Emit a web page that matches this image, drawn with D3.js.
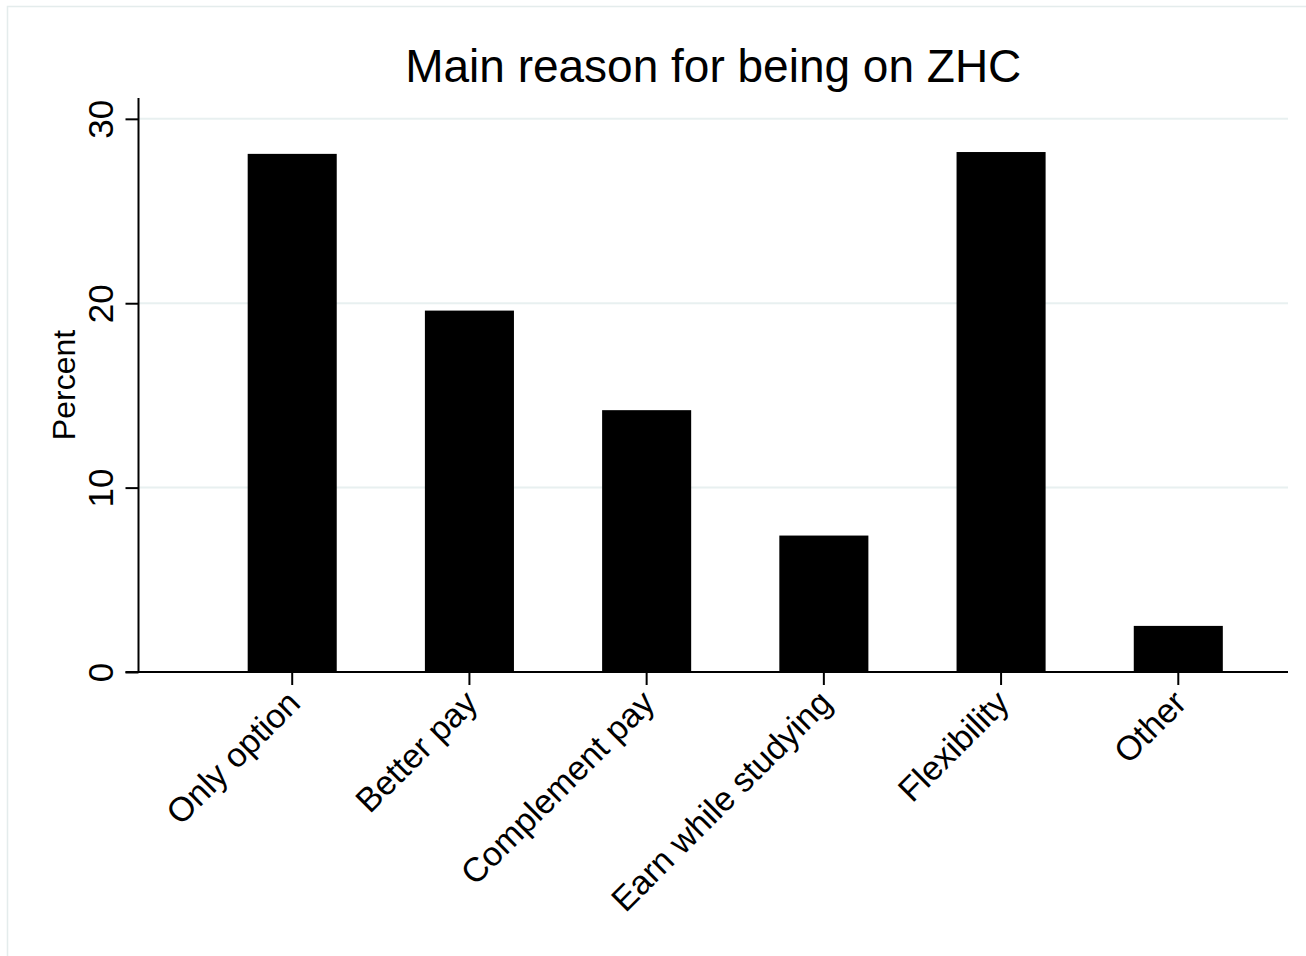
<!DOCTYPE html>
<html>
<head>
<meta charset="utf-8">
<script src="https://cdn.jsdelivr.net/npm/d3@7"></script>
<style>
  html, body { margin: 0; padding: 0; background: #fff; }
  svg { display: block; }
  text { font-family: "Liberation Sans", Arial, Helvetica, sans-serif; fill: #000; }
</style>
</head>
<body>
<svg id="chart" width="1306" height="956"></svg>
<script>
// Survey shares: main reason for being on a zero-hours contract (percent)
const categories = ["Only option", "Better pay", "Complement pay", "Earn while studying", "Flexibility", "Other"];
const percents = [28.1, 19.6, 14.2, 7.4, 28.2, 2.5];
const yTicks = [0, 10, 20, 30];
const titleText = "Main reason for being on ZHC";
const yTitle = "Percent";

const svg = d3.select("#chart");

// outer frame of the graph region
svg.append("rect")
  .attr("x", 7.5).attr("y", 6.5)
  .attr("width", 1320).attr("height", 970)
  .attr("fill", "#fff")
  .attr("stroke", "#e4ecec")
  .attr("stroke-width", 1.5);

const plot = { left: 138.5, right: 1288, top: 98, bottom: 672 };

const y = d3.scaleLinear()
  .domain([0, 31.13])
  .range([plot.bottom, plot.top]);

const x = d3.scaleBand()
  .domain(categories)
  .range([203.6, 1266.9])
  .paddingInner(0.4975)
  .paddingOuter(0.4975 / 2);

// horizontal grid lines
svg.append("g")
  .selectAll("line")
  .data(yTicks.filter(d => d > 0))
  .join("line")
  .attr("x1", plot.left).attr("x2", plot.right)
  .attr("y1", d => y(d)).attr("y2", d => y(d))
  .attr("stroke", "#e8f0f0")
  .attr("stroke-width", 2);

// bars
svg.append("g")
  .selectAll("rect")
  .data(categories.map((c, i) => ({ c, v: percents[i] })))
  .join("rect")
  .attr("x", d => x(d.c))
  .attr("width", x.bandwidth())
  .attr("y", d => y(d.v))
  .attr("height", d => y(0) - y(d.v))
  .attr("fill", "#000");

// y axis
const yAxis = svg.append("g")
  .attr("transform", `translate(${plot.left},0)`)
  .call(d3.axisLeft(y).tickValues(yTicks).tickSize(13).tickSizeOuter(0).tickFormat(d3.format("d")));
yAxis.select(".domain").attr("stroke", "#000").attr("stroke-width", 2)
  .attr("d", `M0,${plot.top}V${plot.bottom}`);
yAxis.selectAll(".tick line").attr("stroke", "#000").attr("stroke-width", 2);
yAxis.selectAll(".tick text")
  .attr("x", null).attr("dy", null)
  .attr("transform", "translate(-26,0) rotate(-90)")
  .attr("text-anchor", "middle")
  .style("font-size", "35px")
  .style("font-family", "'Liberation Sans', Arial, sans-serif");

// x axis
const xAxis = svg.append("g")
  .attr("transform", `translate(0,${plot.bottom})`)
  .call(d3.axisBottom(x).tickSize(13).tickSizeOuter(0));
xAxis.select(".domain").attr("stroke", "#000").attr("stroke-width", 2)
  .attr("d", `M${plot.left - 13},0H${plot.right}`);
xAxis.selectAll(".tick line").attr("stroke", "#000").attr("stroke-width", 2);
xAxis.selectAll(".tick text")
  .attr("y", null).attr("dy", null)
  .attr("text-anchor", "end")
  .attr("transform", "translate(10,33) rotate(-45)")
  .style("font-size", "34px")
  .style("font-family", "'Liberation Sans', Arial, sans-serif");

// axis title
svg.append("text")
  .attr("transform", `translate(75,${(plot.top + plot.bottom) / 2}) rotate(-90)`)
  .attr("text-anchor", "middle")
  .style("font-size", "32px")
  .text(yTitle);

// chart title
svg.append("text")
  .attr("x", (plot.left + plot.right) / 2)
  .attr("y", 82)
  .attr("text-anchor", "middle")
  .style("font-size", "46px")
  .text(titleText);
</script>
</body>
</html>
